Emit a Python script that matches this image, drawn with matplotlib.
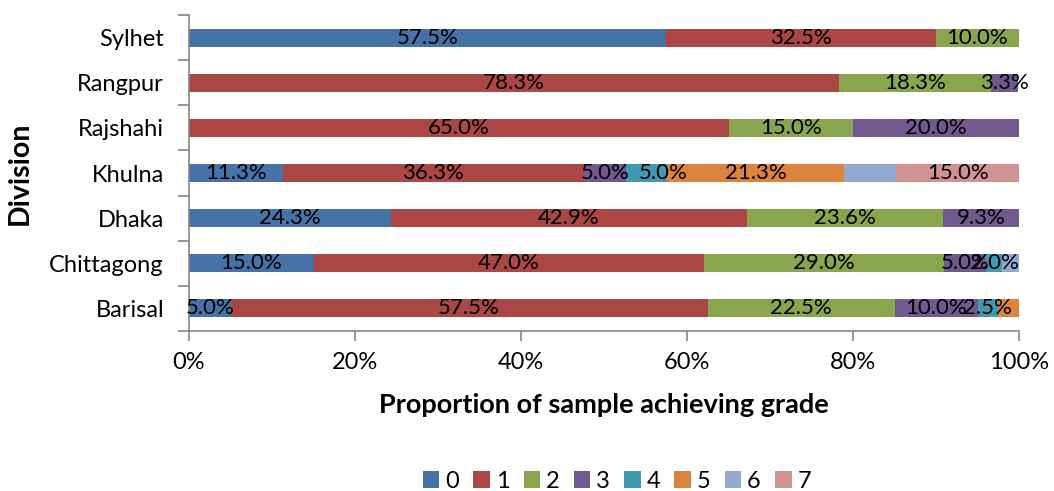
import matplotlib
matplotlib.use("Agg")
import matplotlib.pyplot as plt
import numpy as np

plt.rcParams['font.family'] = ['Lato', 'DejaVu Sans']

divisions = ["Barisal", "Chittagong", "Dhaka", "Khulna", "Rajshahi", "Rangpur", "Sylhet"]
grades = ["0", "1", "2", "3", "4", "5", "6", "7"]
# values per grade for each division (percent)
g0 = [5.0, 15.0, 24.3, 11.3, 0.0, 0.0, 57.5]
g1 = [57.5, 47.0, 42.9, 36.3, 65.0, 78.3, 32.5]
g2 = [22.5, 29.0, 23.6, 0.0, 15.0, 18.3, 10.0]
g3 = [10.0, 5.0, 9.3, 5.0, 20.0, 3.3, 0.0]
g4 = [2.5, 2.0, 0.0, 5.0, 0.0, 0.0, 0.0]
g5 = [2.5, 0.0, 0.0, 21.3, 0.0, 0.0, 0.0]
g6 = [0.0, 2.0, 0.0, 6.3, 0.0, 0.0, 0.0]
g7 = [0.0, 0.0, 0.0, 15.0, 0.0, 0.0, 0.0]
series = [g0, g1, g2, g3, g4, g5, g6, g7]
# segments whose data label is not shown in the original
hidden_labels = [("Barisal", "5"), ("Chittagong", "6"), ("Khulna", "6")]

colors = ["#4572A7", "#AA4643", "#89A54E", "#71588F", "#4198AF", "#DB843D", "#93A9CF", "#D19392"]

fig = plt.figure(figsize=(10.54, 4.91), dpi=100)
ax = fig.add_axes([189/1054, 1-331/491, (1019-189)/1054, (331-15)/491])

# small horizontal nudges (in axis units) for crowded labels
label_nudge = {("Khulna", "4"): 2.0}

y = np.arange(len(divisions))
left = np.zeros(len(divisions))
for vals, col, name in zip(series, colors, grades):
    vals = np.array(vals)
    ax.barh(y, vals, left=left, height=0.4, color=col, label=name)
    for yi, (l, v) in enumerate(zip(left, vals)):
        key = (divisions[yi], name)
        if v > 0 and key not in hidden_labels:
            ax.text(l + v/2 + label_nudge.get(key, 0.0), yi, f"{v:.1f}%",
                    ha='center', va='center', fontsize=16, color='black')
    left = left + vals

ax.set_xlim(0, 100)
ax.set_ylim(-0.5, len(divisions) - 0.5)
ax.set_yticks(y)
ax.set_yticklabels(divisions, fontsize=17)
ax.set_yticks(np.arange(-0.5, len(divisions)), minor=True)
ax.tick_params(axis='y', which='major', length=0, pad=18)
ax.tick_params(axis='y', which='minor', length=8, color='#868686', width=1.2)
ax.set_xticks(np.arange(0, 101, 20))
ax.set_xticklabels([f"{t}%" for t in range(0, 101, 20)], fontsize=17)
ax.tick_params(axis='x', length=7, color='#868686', width=1.2, pad=8)

for s in ['top', 'right']:
    ax.spines[s].set_visible(False)
for s in ['left', 'bottom']:
    ax.spines[s].set_color('#868686')
    ax.spines[s].set_linewidth(1.2)

ax.set_xlabel("Proportion of sample achieving grade", fontsize=19.5, fontweight='bold')
ax.xaxis.set_label_coords(0.5, (331-405)/316)
ax.xaxis.label.set_va('center')
ax.set_ylabel("Division", fontsize=20.5, fontweight='bold')
ax.yaxis.set_label_coords((20-189)/830, 0.5)
ax.yaxis.label.set_va('center')

handles, labels = ax.get_legend_handles_labels()
fig.legend(handles, labels, loc='center', bbox_to_anchor=(617/1054, 1-481/491), ncol=8,
           frameon=False, fontsize=17, handlelength=0.7, handleheight=0.7,
           handletextpad=0.25, columnspacing=0.6, borderpad=0)

fig.savefig("out.png", dpi=100)
